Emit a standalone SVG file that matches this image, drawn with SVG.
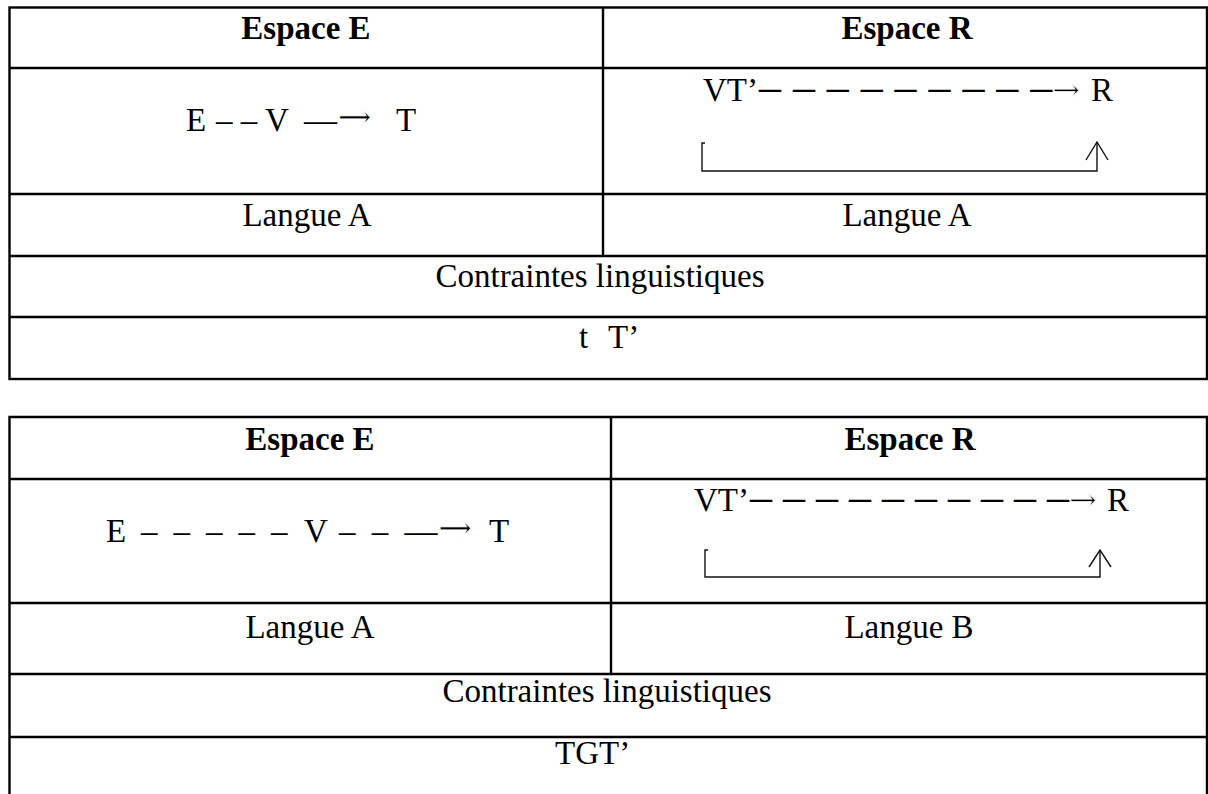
<svg xmlns="http://www.w3.org/2000/svg" width="1208" height="794" viewBox="0 0 1208 794">
<style>
.bg{fill:#fff}
.grid{stroke:#000;stroke-width:2.4;fill:none}
.t{font-family:"Liberation Serif","Times New Roman",serif;font-size:33px;fill:#000}
.b{font-weight:bold}
.c{text-anchor:middle}
.d{font-size:44px}
.ar{font-family:"DejaVu Serif","Liberation Serif",serif;font-size:33px;stroke:#fff;stroke-width:0.7}
.arL{font-family:"DejaVu Serif","Liberation Serif",serif;font-size:42px;stroke:#fff;stroke-width:1.1}
.br{stroke:#111;stroke-width:1.4;fill:none}
</style>
<rect class="bg" x="0" y="0" width="1208" height="794"/>

<g id="table1">
  <g id="t1-frame" class="grid">
    <rect x="9.5" y="7.5" width="1197.5" height="371.5"/>
    <line x1="9.5" y1="68" x2="1207" y2="68"/>
    <line x1="9.5" y1="194" x2="1207" y2="194"/>
    <line x1="9.5" y1="256" x2="1207" y2="256"/>
    <line x1="9.5" y1="317" x2="1207" y2="317"/>
    <line x1="603" y1="7.5" x2="603" y2="256"/>
  </g>
  <g id="t1-head-e"><text class="t b c" x="306" y="39">Espace E</text></g>
  <g id="t1-head-r"><text class="t b c" x="907" y="39">Espace R</text></g>
  <g id="t1-evt"><text class="t" y="131"><tspan x="186">E</tspan> <tspan x="216">– –</tspan> <tspan x="265">V</tspan> <tspan x="304">––</tspan><tspan class="arL">→</tspan> <tspan x="396">T</tspan></text></g>
  <g id="t1-vtr"><text class="t" y="101"><tspan x="703">VT’</tspan><tspan x="759" class="d" style="word-spacing:0.9px">– – – – – – – – –</tspan><tspan class="ar">→</tspan> <tspan x="1091">R</tspan></text></g>
  <g id="t1-langue-a1"><text class="t c" x="307" y="226">Langue A</text></g>
  <g id="t1-langue-a2"><text class="t c" x="907" y="226">Langue A</text></g>
  <g id="t1-contraintes"><text class="t c" x="600" y="287">Contraintes linguistiques</text></g>
  <g id="t1-tt"><text class="t" x="579" y="348">t <tspan x="608">T’</tspan></text></g>
</g>

<g id="table2">
  <g id="t2-frame" class="grid">
    <polyline points="9.5,794 9.5,417 1207,417 1207,794"/>
    <line x1="9.5" y1="479" x2="1207" y2="479"/>
    <line x1="9.5" y1="603" x2="1207" y2="603"/>
    <line x1="9.5" y1="674" x2="1207" y2="674"/>
    <line x1="9.5" y1="737" x2="1207" y2="737"/>
    <line x1="611" y1="417" x2="611" y2="674"/>
  </g>
  <g id="t2-head-e"><text class="t b c" x="310" y="450">Espace E</text></g>
  <g id="t2-head-r"><text class="t b c" x="910" y="450">Espace R</text></g>
  <g id="t2-evt"><text class="t" y="542"><tspan x="106">E</tspan> <tspan x="141" style="word-spacing:7.75px">– – – – –</tspan> <tspan x="304">V</tspan> <tspan x="339" style="word-spacing:8px">– – ––</tspan><tspan class="arL">→</tspan> <tspan x="489">T</tspan></text></g>
  <g id="t2-vtr"><text class="t" y="511"><tspan x="694">VT’</tspan><tspan x="750" class="d">– – – – – – – – – –</tspan><tspan class="ar">→</tspan> <tspan x="1107">R</tspan></text></g>
  <g id="t2-langue-a"><text class="t c" x="310" y="638">Langue A</text></g>
  <g id="t2-langue-b"><text class="t c" x="909" y="638">Langue B</text></g>
  <g id="t2-contraintes"><text class="t c" x="607" y="702">Contraintes linguistiques</text></g>
  <g id="t2-tgt"><text class="t" x="555" y="764">TGT’</text></g>
</g>

<g id="connectors">
  <path class="br" d="M705,143 L702,143 L702,171 L1097,171 L1097,142"/>
  <path class="br" d="M1086,160 L1097,142 L1108,160"/>
  <path class="br" d="M708,550 L705,550 L705,577 L1100,577 L1100,550"/>
  <path class="br" d="M1089,567 L1100,550 L1111,567"/>
</g>
</svg>
